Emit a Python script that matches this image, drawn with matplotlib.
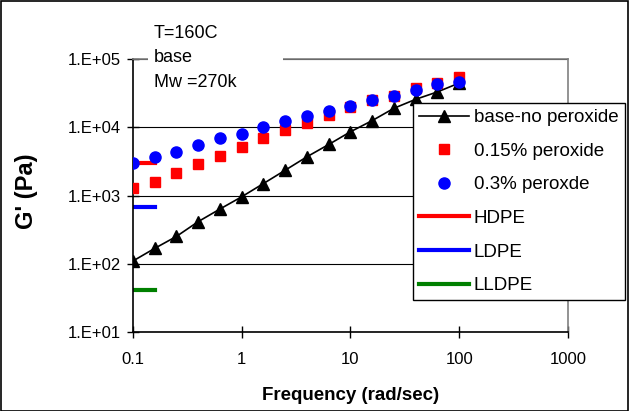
import numpy as np
import matplotlib.pyplot as plt
from matplotlib.patches import Rectangle

plt.rcParams['font.family'] = ['Liberation Sans', 'DejaVu Sans']

# frequencies, 5 points per decade
freq = [0.1, 0.158, 0.251, 0.398, 0.631, 1.0, 1.585, 2.51, 3.98, 6.31,
        10, 15.8, 25.1, 39.8, 63.1, 100]

base_no_perox = [110, 168, 252, 415, 635, 960, 1500, 2350, 3700, 5600,
                 8600, 12500, 19000, 25700, 33000, 44500]
perox_015 = [1275, 1595, 2115, 2865, 3835, 5140, 6960, 9120, 11430, 15140,
             19500, 25100, 28700, 37200, 44000, 53800]
perox_03 = [3020, 3630, 4300, 5430, 6880, 8050, 10250, 12340, 14600, 17500,
            20400, 25100, 28700, 35200, 42600, 46600]

# reference polymers (short horizontal lines)
ref_x = [0.1, 0.16]
hdpe = 2960
ldpe = 685
lldpe = 42

yticks = [1e1, 1e2, 1e3, 1e4, 1e5]
ytick_labels = ["1.E+01", "1.E+02", "1.E+03", "1.E+04", "1.E+05"]
xticks = [0.1, 1, 10, 100, 1000]
xtick_labels = ["0.1", "1", "10", "100", "1000"]

fig = plt.figure(figsize=(6.29, 4.11), dpi=100)
ax = fig.add_axes([0.2114, 0.192, 0.6916, 0.6644])

ax.plot(freq, base_no_perox, color='black', lw=1.2, marker='^', ms=8.5,
        label='base-no peroxide', zorder=3)
ax.plot(freq, perox_015, ls='none', marker='s', color='#ff0000', ms=7,
        label='0.15% peroxide', zorder=4)
ax.plot(freq, perox_03, ls='none', marker='o', color='#0000ff', ms=8,
        label='0.3% peroxde', zorder=5)
ax.plot(ref_x, [hdpe, hdpe], color='#ff0000', lw=3, label='HDPE', zorder=2)
ax.plot(ref_x, [ldpe, ldpe], color='#0000ff', lw=3, label='LDPE', zorder=2)
ax.plot(ref_x, [lldpe, lldpe], color='#008000', lw=3, label='LLDPE', zorder=2)

ax.set_xscale('log')
ax.set_yscale('log')
ax.set_xlim(0.1, 1000)
ax.set_ylim(10, 1e5)
ax.set_xticks(xticks)
ax.set_xticklabels(xtick_labels)
ax.set_yticks(yticks)
ax.set_yticklabels(ytick_labels)
ax.minorticks_off()
ax.tick_params(labelsize=12, length=9, width=1, direction='inout')
ax.tick_params(axis='x', pad=10)
ax.tick_params(axis='y', pad=4)

ax.yaxis.grid(True, color='black', lw=0.8)
ax.set_axisbelow(True)
for s in ['left', 'bottom']:
    ax.spines[s].set_color('black')
    ax.spines[s].set_linewidth(1.2)
for s in ['top', 'right']:
    ax.spines[s].set_color('#808080')
    ax.spines[s].set_linewidth(1.2)

ax.set_xlabel('Frequency (rad/sec)', fontsize=13.5, fontweight='bold', labelpad=14)
ax.set_ylabel("G' (Pa)", fontsize=17, fontweight='bold')
ax.yaxis.set_label_coords(-0.218, 0.515)

# white box behind the note, hiding that part of the top border
fig.patches.append(Rectangle((0.236, 0.8), 0.214, 0.155, transform=fig.transFigure,
                             facecolor='white', edgecolor='none', zorder=5))
fig.text(0.245, 0.94, 'T=160C\nbase\nMw =270k', fontsize=13, va='top', ha='left',
         linespacing=1.6, zorder=6)

leg = ax.legend(loc='upper left', bbox_to_anchor=(0.6566, 0.7494),
                bbox_transform=fig.transFigure, fontsize=13.5,
                frameon=True, fancybox=False, framealpha=1, edgecolor='black',
                handlelength=2.65, handletextpad=0.28, labelspacing=0.88,
                borderpad=0.32, borderaxespad=0)
leg.get_frame().set_linewidth(1.0)
leg.set_zorder(10)

fig.patches.append(Rectangle((0.001, 0.001), 0.997, 0.997, transform=fig.transFigure,
                             fill=False, edgecolor='black', lw=1.2))

plt.savefig('out.png', dpi=100)
